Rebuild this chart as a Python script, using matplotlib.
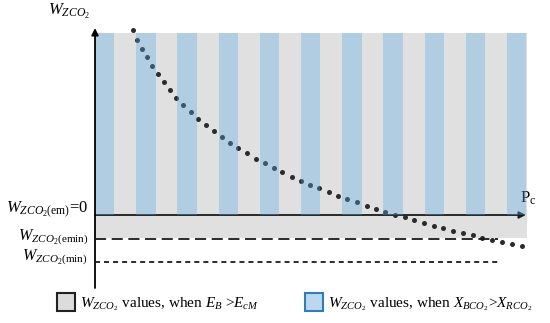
import matplotlib
matplotlib.use('Agg')
import matplotlib.pyplot as plt
from matplotlib.patches import Rectangle, Patch

plt.rcParams['font.family'] = 'Liberation Serif'
plt.rcParams['mathtext.fontset'] = 'custom'
plt.rcParams['mathtext.rm'] = 'Liberation Serif'
plt.rcParams['mathtext.it'] = 'Liberation Serif:italic'
plt.rcParams['mathtext.bf'] = 'Liberation Serif:bold'
plt.rcParams['lines.scale_dashes'] = False

# W_ZCO2 versus Pc (x: 1 unit = one stripe period, y: top of band = 10)
pc = [0.930, 1.027, 1.148, 1.262, 1.383, 1.529, 1.667, 1.820, 1.973, 2.143,
      2.323, 2.507, 2.694, 2.881, 3.083, 3.277, 3.478, 3.697, 3.900, 4.119,
      4.337, 4.551, 4.774, 4.993, 5.218, 5.444, 5.672, 5.898, 6.124, 6.359,
      6.595, 6.820, 7.046, 7.282, 7.519, 7.750, 7.985, 8.221, 8.454, 8.689,
      8.925, 9.167, 9.400, 9.636, 9.871, 10.121, 10.364]
w_zco2 = [10.16, 9.62, 9.14, 8.66, 8.19, 7.73, 7.29, 6.87, 6.45, 6.04,
          5.64, 5.27, 4.95, 4.60, 4.27, 3.96, 3.66, 3.39, 3.09, 2.84,
          2.58, 2.35, 2.10, 1.88, 1.66, 1.47, 1.26, 1.04, 0.86, 0.70,
          0.51, 0.35, 0.18, 0.02, -0.13, -0.29, -0.44, -0.59, -0.73, -0.86,
          -0.99, -1.12, -1.25, -1.37, -1.48, -1.59, -1.72]

w_top = 10.0        # top of shaded band
w_em = 0.0          # W_ZCO2(em)
w_emin = -1.33      # W_ZCO2(emin)
w_min = -2.58       # W_ZCO2(min)
pc_end = 10.49      # right end of band
stripe_starts = list(range(11))
stripe_width = 0.47

grey = '#e0e0e0'
blue = (87 / 255, 170 / 255, 227 / 255)

fig = plt.figure(figsize=(5.5, 3.23), dpi=100)
ax = fig.add_axes([0, 0, 1, 1])
ax.set_xlim(-2.306, 11.044)
ax.set_ylim(-5.934, 11.813)
ax.axis('off')

# grey region (E_B > E_cM)
ax.add_patch(Rectangle((0, w_emin + 0.08), pc_end, w_top - w_emin - 0.08,
                       facecolor=grey, edgecolor='none', zorder=1))

# x axis with arrow
ax.annotate('', xy=(10.46, w_em), xytext=(0, w_em),
            arrowprops=dict(arrowstyle='-|>', lw=1.3, color='#1a1a1a',
                            mutation_scale=10, shrinkA=0, shrinkB=0), zorder=2)

# the curve
ax.plot(pc, w_zco2, 'o', ms=3.6, color='#2b2b2b', mec='none', zorder=3)

# blue stripes (X_BCO2 > X_RCO2), drawn over the curve
for s in stripe_starts:
    ax.add_patch(Rectangle((s, w_em), stripe_width, w_top - w_em,
                           facecolor=blue, alpha=0.35, edgecolor='none', zorder=4))

# y axis with arrow
ax.annotate('', xy=(0, 10.27), xytext=(0, -4.01),
            arrowprops=dict(arrowstyle='-|>', lw=1.3, color='black',
                            mutation_scale=10, shrinkA=0, shrinkB=0), zorder=5)

# reference levels
ax.plot([0, 9.78], [w_emin, w_emin], color='#1a1a1a', lw=1.3, dashes=(8, 4), zorder=5)
ax.plot([0, 9.78], [w_min, w_min], color='#1a1a1a', lw=1.3, dashes=(3.6, 2.9), zorder=5)

# labels
fs = 12
ax.text(-1.14, 10.99, r'$W_{ZCO_2}$', fontsize=fs, ha='left', va='baseline')
ax.text(-0.17, 0.11, r'$W_{ZCO_2\mathrm{(em)}}$=0', fontsize=fs, ha='right', va='baseline')
ax.text(-0.15, -1.42, r'$W_{ZCO_2\mathrm{(emin)}}$', fontsize=11.5, ha='right', va='baseline')
ax.text(-0.19, -2.48, r'$W_{ZCO_2\mathrm{(min)}}$', fontsize=11.5, ha='right', va='baseline')
ax.text(10.32, 0.66, r'P$_\mathrm{c}$', fontsize=fs, ha='left', va='baseline')

handles = [Patch(facecolor='#dcdcdc', edgecolor='#222222', lw=1.5),
           Patch(facecolor='#bcd8ee', edgecolor='#2f7fb5', lw=1.5)]
labels = [r'$W_{ZCO_2}$ values, when $E_B$ >$E_{cM}$',
          r'$W_{ZCO_2}$ values, when $X_{BCO_2}$>$X_{RCO_2}$']
fig.legend(handles, labels, loc='center left', bbox_to_anchor=(57 / 550, 1 - 303 / 323),
           ncol=2, frameon=False, fontsize=11, handlelength=1.2, handleheight=1.35,
           handletextpad=0.3, columnspacing=3.0, borderpad=0, borderaxespad=0)

fig.savefig('out.png', dpi=100)
